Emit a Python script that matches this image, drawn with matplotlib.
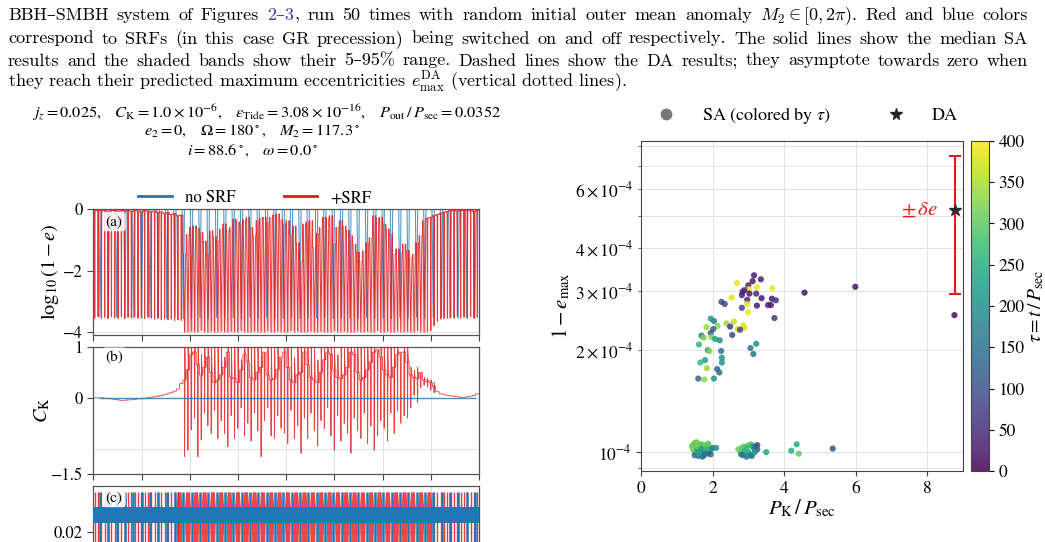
import numpy as np
import matplotlib.pyplot as plt
from matplotlib.lines import Line2D

plt.rcParams['font.family'] = ['STIXGeneral', 'DejaVu Serif']
plt.rcParams['mathtext.fontset'] = 'stix'

W, H = 1045, 542
BLUE = '#1f77b4'
RED = '#e31a1c'

# ---------------- data ----------------
# SRF run: one entry per secular cycle (period ~3.45 in t/P_sec)
red_t0, red_period = 1.5, 3.45
red_top = [
    -0.05, -0.03, -0.06, -0.04, -0.08, -0.05, -0.03, -0.07, -0.04, -0.06,
    -0.05, -0.08, -0.04, -0.06, -0.10, -0.05, -0.07, -0.10, -0.06, -0.12,
    -0.09, -0.15, -0.12, -0.18, -0.15, -0.22, -0.20, -1.47, -0.82, -0.60,
    -0.55, -0.62, -0.76, -1.05, -1.47, -0.71, -0.90, -1.04, -0.65, -0.49,
    -0.71, -0.60, -0.33, -0.42, -0.49, -0.35, -0.27, -0.60, -0.87, -0.38,
    -0.30, -0.27, -0.45, -0.27, -0.20, -0.16, -0.35, -0.49, -0.38, -0.82,
    -0.55, -1.10, -1.69, -0.49, -0.42, -0.38, -1.25, -0.80, -0.60, -0.27,
    -0.30, -0.22, -1.14, -0.60, -0.38, -0.55, -0.70, -0.87, -1.14, -1.40,
    -1.69, -1.36, -1.10, -0.93, -0.22, -0.30, -0.27, -0.49, -0.65, -0.82,
    -1.47, -1.30, -1.42, -1.14, -1.35, -1.58, -1.47, -1.10, -0.87, -0.38,
    -0.30, -0.27, -0.22, -0.18, -0.14, -0.10, -0.08, -0.06, -0.05, -0.07,
    -0.05, -0.04, -0.06, -0.05, -0.08, -0.05]
red_bottom = [
    -3.55, -3.50, -3.55, -3.52, -3.56, -3.50, -3.54, -3.55, -3.50, -3.56,
    -3.52, -3.55, -3.50, -3.55, -3.53, -3.56, -3.52, -3.55, -3.58, -3.55,
    -3.60, -3.57, -3.60, -3.58, -3.62, -3.60, -3.62, -4.00, -4.00, -3.98,
    -4.00, -4.00, -3.95, -4.00, -4.00, -3.98, -4.00, -4.00, -3.97, -4.00,
    -4.00, -3.98, -4.00, -4.00, -3.96, -4.00, -4.00, -4.00, -3.98, -4.00,
    -4.00, -4.00, -3.97, -4.00, -4.00, -3.98, -4.00, -4.00, -4.00, -3.96,
    -4.00, -3.98, -4.00, -4.00, -4.00, -3.97, -4.00, -4.00, -3.98, -4.00,
    -4.00, -4.00, -3.96, -4.00, -4.00, -3.98, -4.00, -4.00, -4.00, -3.97,
    -4.00, -4.00, -3.98, -4.00, -4.00, -3.96, -4.00, -4.00, -3.98, -4.00,
    -4.00, -3.97, -4.00, -4.00, -3.98, -4.00, -4.00, -3.96, -4.00, -4.00,
    -3.98, -3.95, -3.80, -3.65, -3.58, -3.55, -3.55, -3.52, -3.55, -3.50,
    -3.55, -3.52, -3.55, -3.50, -3.55, -3.52]
turb_start, turb_end = 92.0, 344.0

# no-SRF run: eccentricity dips (period ~8.64)
blue_t0, blue_period = 6.9, 8.64
blue_depth = [
    -3.52, -3.55, -3.50, -3.56, -3.53, -3.55, -3.51, -3.56, -3.54, -3.52,
    -3.57, -3.55, -3.53, -3.56, -3.52, -3.55, -3.54, -3.56, -3.51, -3.55,
    -3.53, -3.57, -3.55, -3.52, -3.56, -3.54, -3.55, -3.51, -3.56, -3.53,
    -3.55, -3.57, -3.52, -3.55, -3.54, -3.56, -3.53, -3.55, -3.51, -3.56,
    -3.54, -3.52, -3.55, -3.56, -3.53, -3.55]

# C_K per SRF cycle (median), and 5-95% band from cycle 27 on
ck_med = [
    0.00, 0.00, 0.00, -0.01, -0.01, -0.02, -0.03, -0.04, -0.05, -0.05,
    -0.04, -0.04, -0.03, -0.02, -0.02, -0.01, 0.00, 0.01, 0.02, 0.03,
    0.04, 0.06, 0.08, 0.10, 0.13, 0.17, 0.28,
    0.35, 0.55, 0.85, 0.90, 0.65, 0.45, 0.60, 0.80, 0.50, 0.30,
    0.35, 0.45, 0.60, 0.90, 0.40, 0.38, 0.30, 0.55, 0.85, 0.70,
    0.40, 0.35, 0.50, 0.60, 0.90, 0.45, 0.35, 0.38, 0.55, 0.80,
    0.90, 0.60, 0.35, 0.30, 0.45, 0.50, 0.90, 0.65, 0.40, 0.35,
    0.30, 0.50, 0.75, 0.90, 0.85, 0.55, 0.40, 0.38, 0.45, 0.60,
    0.90, 0.85, 0.50, 0.35, 0.40, 0.55, 0.70, 0.90, 0.95, 0.80,
    0.55, 0.45, 0.40, 0.60, 0.85, 0.90, 0.90, 0.70, 0.45, 0.40,
    0.38, 0.50, 0.35,
    0.32, 0.30, 0.22, 0.12, 0.08, 0.06, 0.05, 0.04, 0.03, 0.02,
    0.01, 0.01, 0.02, 0.03, 0.05, 0.08]
band_first = 27
ck_band_lo = [
    -1.16, -1.03, -0.63, -0.40, -1.16, -0.83, -0.30, -0.55, -0.70, -0.25,
    -0.80, -0.45, -0.70, -0.96, -0.35, -0.80, -0.60, -0.20, -0.75, -0.50,
    -0.85, -0.30, -0.65, -1.16, -0.45, -0.20, -0.75, -0.80, -0.35, -0.60,
    -0.70, -0.90, -0.25, -0.80, -0.55, -1.09, -0.40, -0.80, -0.30, -0.65,
    -0.95, -0.45, -0.60, -0.20, -0.75, -1.03, -0.35, -0.85, -0.50, -0.70,
    -1.09, -0.40, -0.65, -0.80, -0.30, -0.90, -0.55, -1.03, -0.75, -0.45,
    -0.60, -0.85, -0.30, -0.70, -0.25, -0.50, -0.35, -0.40, -0.20, 0.05,
    -0.10, 0.20, 0.25, 0.22, 0.15, 0.10]
ck_band_hi = [
    1.0, 1.0, 1.0, 1.0, 1.0, 0.85, 1.0, 1.0, 1.0, 1.0,
    1.0, 1.0, 0.80, 1.0, 1.0, 1.0, 1.0, 0.75, 1.0, 1.0,
    1.0, 1.0, 1.0, 1.0, 0.85, 1.0, 1.0, 1.0, 1.0, 0.70,
    1.0, 1.0, 1.0, 0.80, 1.0, 1.0, 1.0, 1.0, 1.0, 1.0,
    0.75, 1.0, 1.0, 1.0, 1.0, 1.0, 0.85, 1.0, 1.0, 1.0,
    1.0, 1.0, 1.0, 1.0, 1.0, 1.0, 1.0, 1.0, 0.80, 1.0,
    1.0, 1.0, 1.0, 1.0, 1.0, 0.70, 1.0, 1.0, 0.60, 0.55,
    0.60, 0.45, 0.40, 0.38, 0.35, 0.30]
blue_ck = [0.0] * len(blue_depth)

# panel (c): j_z fast band and spike extremes
jz_band = (0.0226, 0.0274)
jz_spike = (0.0125, 0.0318)
jz_block_start, jz_block_end = 88.0, 352.0

# right panel: SA maxima (P_K/P_sec, 1-e_max in 1e-4, tau)
sa_pk = [
    3.16, 3.35, 3.12, 2.68, 3.00, 3.24, 3.02, 3.67, 2.89, 2.84, 3.03, 3.22, 2.82,
    4.57, 2.53, 3.37, 2.97, 3.66, 3.77, 2.25, 2.34, 2.97, 3.24, 3.55, 3.63, 2.82,
    2.99, 3.73, 1.95, 2.04, 2.39, 2.60, 2.86, 1.83, 2.14, 2.49, 2.70, 2.89, 2.77,
    2.02, 1.95, 1.69, 1.97, 1.75, 2.55, 2.07, 2.20, 1.62, 3.22, 3.06, 1.87, 1.91,
    2.24, 3.14, 2.26, 2.26, 1.79, 1.66, 1.84, 2.13, 2.19, 1.60, 1.77, 2.04, 5.99,
    8.76,
    1.45, 1.50, 1.55, 1.60, 1.65, 1.70, 1.75, 1.80, 1.85, 1.90, 1.45, 1.50, 1.55,
    1.60, 1.65, 1.70, 1.75, 1.80, 1.85, 1.90, 1.95, 2.00, 2.10, 1.50, 1.60, 1.72,
    1.95, 1.42, 1.58, 1.68, 1.82, 1.88, 1.78, 1.62,
    2.72, 2.78, 2.82, 2.88, 2.90, 2.85, 2.95, 3.00, 3.02, 3.08, 3.12, 3.15, 3.05,
    3.10, 3.20, 3.25, 3.25, 2.95, 2.80, 3.18,
    3.50, 4.20, 4.35, 4.41, 5.36]
sa_emax = [
    3.33, 3.24, 3.20, 3.16, 3.11, 3.07, 3.03, 3.05, 3.01, 2.98, 2.94, 2.94, 2.91,
    2.96, 2.86, 2.85, 2.82, 2.84, 2.81, 2.78, 2.74, 2.74, 2.71, 2.72, 2.72, 2.67,
    2.59, 2.49, 2.48, 2.44, 2.40, 2.43, 2.37, 2.34, 2.36, 2.35, 2.31, 2.33, 2.30,
    2.31, 2.25, 2.21, 2.19, 2.18, 2.22, 2.16, 2.14, 2.08, 2.09, 2.03, 2.00, 1.99,
    1.99, 1.95, 1.90, 1.84, 1.87, 1.84, 1.77, 1.76, 1.72, 1.65, 1.64, 1.65, 3.08,
    2.54,
    1.05, 1.065, 1.07, 1.06, 1.05, 1.055, 1.04, 1.05, 1.045, 1.03, 1.02, 1.00, 1.03,
    1.01, 0.99, 1.00, 0.98, 1.01, 0.99, 1.00, 1.02, 1.03, 1.03, 0.98, 0.975, 0.97,
    0.985, 1.04, 1.04, 1.02, 1.02, 1.06, 0.99, 0.99,
    1.02, 1.00, 1.03, 1.04, 1.01, 0.98, 0.97, 1.00, 1.05, 1.055, 1.04, 1.03, 0.98,
    0.975, 1.04, 1.02, 1.05, 1.03, 0.985, 1.00,
    1.00, 1.01, 1.055, 0.99, 1.025]
sa_tau = [
    30, 40, 25, 385, 35, 390, 395, 390, 45, 40, 30, 50, 35,
    20, 385, 25, 40, 30, 60, 90, 80, 380, 30, 40, 35, 75,
    390, 70, 220, 170, 340, 360, 385, 340, 330, 70, 370, 380, 80,
    130, 110, 170, 330, 320, 90, 230, 200, 260, 200, 150, 170, 330,
    150, 150, 200, 210, 220, 270, 340, 130, 140, 130, 330, 200, 20,
    15,
    320, 310, 300, 330, 280, 300, 260, 320, 310, 290, 330, 300, 250,
    200, 170, 150, 120, 200, 180, 110, 230, 180, 200, 140, 150, 130,
    140, 310, 320, 220, 270, 300, 160, 240,
    310, 320, 300, 300, 260, 170, 160, 240, 280, 300, 250, 200, 180,
    170, 120, 120, 110, 270, 150, 200,
    240, 250, 250, 300, 100]
da_pk, da_emax, da_err = 8.78, 5.2e-4, 2.27e-4

# ---------------- figure ----------------
fig = plt.figure(figsize=(W / 100, H / 100), dpi=100)

# caption above the figure (paper text, justified)
cap_kw = dict(fontsize=13, family=['cmr10', 'DejaVu Serif'], math_fontfamily='cm', va='baseline')
LINK = '#3535b5'
caption = [
    [[('BBH–SMBH', 'k')], [('system', 'k')], [('of', 'k')], [('Figures', 'k')],
     [('2–3', LINK), (',', 'k')], [('run', 'k')], [('50', 'k')], [('times', 'k')],
     [('with', 'k')], [('random', 'k')], [('initial', 'k')], [('outer', 'k')],
     [('mean', 'k')], [('anomaly', 'k')], [(r'$M_2 \in [0, 2\pi)$.', 'k')],
     [('Red', 'k')], [('and', 'k')], [('blue', 'k')], [('colors', 'k')]],
    [[(w, 'k')] for w in 'correspond to SRFs (in this case GR precession) being switched '
     'on and off respectively. The solid lines show the median SA'.split()],
    [[(w, 'k')] for w in 'results and the shaded bands show their 5–95% range. Dashed '
     'lines show the DA results; they asymptote towards zero when'.split()],
]
renderer = fig.canvas.get_renderer()
for line, yb in zip(caption, [20, 43.5, 65.5]):
    objs = [[fig.text(0, 1 - yb / H, s, color=c, **cap_kw) for s, c in word] for word in line]
    widths = [[t.get_window_extent(renderer).width for t in word] for word in objs]
    gap = (1028 - 8 - sum(map(sum, widths))) / (len(objs) - 1)
    x = 8
    for word, ws in zip(objs, widths):
        for t, w in zip(word, ws):
            t.set_x(x / W)
            x += w
        x += gap
fig.text(8 / W, 1 - 88 / H, r'they reach their predicted maximum eccentricities '
         r'$e^{\rm DA}_{\rm max}$ (vertical dotted lines).', **cap_kw)

# left header
hdr = dict(ha='center', va='center', fontsize=11.8)
fig.text(267 / W, 1 - 112 / H, r'$j_{z} = 0.025,\quad C_{\rm K} = 1.0\times10^{-6},\quad '
         r'\varepsilon_{\rm Tide} = 3.08\times10^{-16},\quad P_{\rm out}\,/\,P_{\rm sec} = 0.0352$', **hdr)
fig.text(252 / W, 1 - 131 / H, r'$e_2 = 0,\quad \Omega = 180^\circ,\quad M_2 = 117.3^\circ$', **hdr)
fig.text(252 / W, 1 - 151 / H, r'$i = 88.6^\circ,\quad \omega = 0.0^\circ$', **hdr)
fig.legend(handles=[Line2D([], [], color=BLUE, lw=2), Line2D([], [], color=RED, lw=2)],
           labels=['no SRF', '+SRF'], loc='center', bbox_to_anchor=(255 / W, 1 - 198 / H),
           ncol=2, frameon=False, fontsize=12, columnspacing=2.9, handlelength=2.0)

red_t = red_t0 + red_period * np.arange(len(red_top))
blue_t = blue_t0 + blue_period * np.arange(len(blue_depth))
turb = (red_t > turb_start) & (red_t < turb_end)

ax_a = fig.add_axes([93.3 / W, 1 - 334.5 / H, 385.7 / W, 125.5 / H])
ax_b = fig.add_axes([93.3 / W, 1 - 474 / H, 385.7 / W, 127 / H])
ax_c = fig.add_axes([93.3 / W, 1 - 613 / H, 385.7 / W, 127 / H])

# (a) log10(1-e)
half = red_period / 2
bx, by = [], []
for t, d in zip(blue_t, blue_depth):
    bx += [t - blue_period / 2, t - 1.2, t, t + 1.2, t + blue_period / 2]
    by += [0, 0, d, 0, 0]
ax_a.plot(bx, by, color=BLUE, lw=0.8, alpha=0.75, zorder=2)

rx, r_line, r_low = [], [], []
for t, a, b, tb in zip(red_t, red_top, red_bottom, turb):
    wi, wo = (1.2, 1.6) if tb else (0.3, 0.6)
    rx += [t - half, t - wo, t - wi, t, t + wi, t + wo, t + half]
    r_line += [a, a, a, b, a, a, a]
    r_low += [a, a, b, b, b, a, a]
ax_a.fill_between(rx, r_low, r_line, color=RED, alpha=0.28, lw=0, zorder=3)
ax_a.plot(rx, r_line, color=RED, lw=0.7, alpha=0.85, zorder=4)
ax_a.set_ylim(-4.08, 0)
ax_a.set_yticks([0, -2, -4])
ax_a.set_ylabel(r'$\log_{10}(1-e)$', fontsize=14.5)
ax_a.yaxis.set_label_coords(-0.085, 0.5)

# (b) C_K
cx, c_line, c_lo, c_hi = [], [], [], []
for i, (t, m) in enumerate(zip(red_t, ck_med)):
    j = i - band_first
    lo, hi = (ck_band_lo[j], ck_band_hi[j]) if 0 <= j < len(ck_band_lo) else (m, m)
    cx += [t - half, t - 0.9, t - 0.25, t, t + 0.25, t + 0.9, t + half]
    c_line += [m, m, m, lo, hi, m, m]
    c_lo += [m, m, lo, lo, lo, m, m]
    c_hi += [m, m, hi, hi, hi, m, m]
ax_b.fill_between(cx, c_lo, c_hi, color=RED, alpha=0.28, lw=0, zorder=3)
ax_b.plot(cx, c_line, color=RED, lw=0.6, alpha=0.8, zorder=4)
ax_b.plot(blue_t, blue_ck, color=BLUE, lw=1.0, alpha=0.8, zorder=5)
ax_b.set_ylim(-1.5, 1)
ax_b.set_yticks([-1.5, 0, 1])
ax_b.set_yticklabels(['\u22121.5', '0', '1'])
ax_b.set_yticks([-1], minor=True)
ax_b.tick_params(axis='y', which='minor', length=0)
ax_b.set_ylabel(r'$C_{\rm K}$', fontsize=14.5)
ax_b.yaxis.set_label_coords(-0.107, 0.5)

# (c) j_z
lo_b, hi_b = jz_band
lo_s, hi_s = jz_spike
for tb in blue_t:
    c = tb + blue_period / 2
    if jz_block_start <= c <= jz_block_end:
        ax_c.fill_between([c - 3, c - 2, c + 2, c + 3], [lo_b, lo_s, lo_s, lo_b],
                          [hi_b, hi_s, hi_s, hi_b], color=RED, alpha=0.8, lw=0, zorder=2)
calm = (red_t < jz_block_start) | (red_t > jz_block_end)
ax_c.vlines(red_t[calm], lo_s, hi_s, color=RED, lw=1.0, alpha=0.85, zorder=2)
ax_c.vlines(blue_t, lo_s, hi_s, color=BLUE, lw=1.8, zorder=3)
ax_c.fill_between([0, 400], lo_b, hi_b, color=BLUE, lw=0, zorder=4)
ax_c.set_ylim(-0.004, 0.0335)
ax_c.set_yticks([0.02])
ax_c.set_yticklabels(['0.02'])

for ax, lab, yy in [(ax_a, '(a)', 0.9), (ax_b, '(b)', 0.92), (ax_c, '(c)', 0.91)]:
    ax.set_xlim(0, 400)
    ax.set_xticks(np.arange(0, 401, 50))
    ax.tick_params(labelbottom=False, labelsize=12, length=4, width=0.8, color='#444')
    ax.grid(True, color='#dcdcdc', lw=0.6, zorder=0)
    ax.grid(True, which='minor', axis='y', color='#dcdcdc', lw=0.6)
    ax.set_axisbelow(True)
    for s in ax.spines.values():
        s.set_color('#555555')
        s.set_linewidth(0.9)
    ax.text(0.032, yy, lab, transform=ax.transAxes, fontsize=11, va='center', zorder=10,
            bbox=dict(boxstyle='round,pad=0.2', fc='white', ec='none', alpha=0.85))

# right panel
ax_r = fig.add_axes([641 / W, 1 - 471 / H, 322 / W, 330 / H])
cax = fig.add_axes([970.7 / W, 1 - 471 / H, 18 / W, 330 / H])
sc = ax_r.scatter(sa_pk, np.array(sa_emax) * 1e-4, c=sa_tau, cmap='viridis', vmin=0, vmax=400,
                  s=20, alpha=0.85, lw=0, zorder=3)
ax_r.errorbar(da_pk, da_emax, yerr=da_err, color=RED, lw=1.5, capsize=4.5, capthick=1.5, zorder=4)
ax_r.plot(da_pk, da_emax, '*', color='#2b2b2b', ms=9, zorder=5)
ax_r.text(8.3, da_emax, r'$\pm\,\delta e$', color=RED, ha='right', va='center', fontsize=15)
ax_r.set_yscale('log')
ax_r.set_xlim(0, 9)
ax_r.set_ylim(0.88e-4, 8.3e-4)
ax_r.set_xticks([0, 2, 4, 6, 8])
ax_r.grid(True, which='both', color='#e3e3e3', lw=0.7, zorder=0)
ax_r.set_axisbelow(True)
ax_r.tick_params(which='both', labelsize=12.5, color='#444')
ax_r.set_xlabel(r'$P_{\rm K}\,/\,P_{\rm sec}$', fontsize=15)
ax_r.xaxis.set_label_coords(0.5, -0.082)
ax_r.set_ylabel(r'$1-e_{\rm max}$', fontsize=15)
ax_r.yaxis.set_label_coords(-0.214, 0.5)
for s in ax_r.spines.values():
    s.set_color('#444444')
cb = fig.colorbar(sc, cax=cax, ticks=np.arange(0, 401, 50))
cb.ax.tick_params(labelsize=12.5)
cb.set_label(r'$\tau = t\,/\,P_{\rm sec}$', fontsize=14)
cb.ax.yaxis.set_label_coords(3.1, 0.5)
cb.outline.set_edgecolor('#444444')

fig.legend(handles=[Line2D([], [], marker='o', ls='', color='#777777', ms=7.5),
                    Line2D([], [], marker='*', ls='', color='#222222', ms=8.5)],
           labels=[r'SA (colored by $\tau$)', 'DA'], loc='center',
           bbox_to_anchor=(803 / W, 1 - 116 / H), ncol=2, frameon=False, fontsize=13,
           columnspacing=2.6, handletextpad=1.0)

fig.savefig('out.png', dpi=100)
